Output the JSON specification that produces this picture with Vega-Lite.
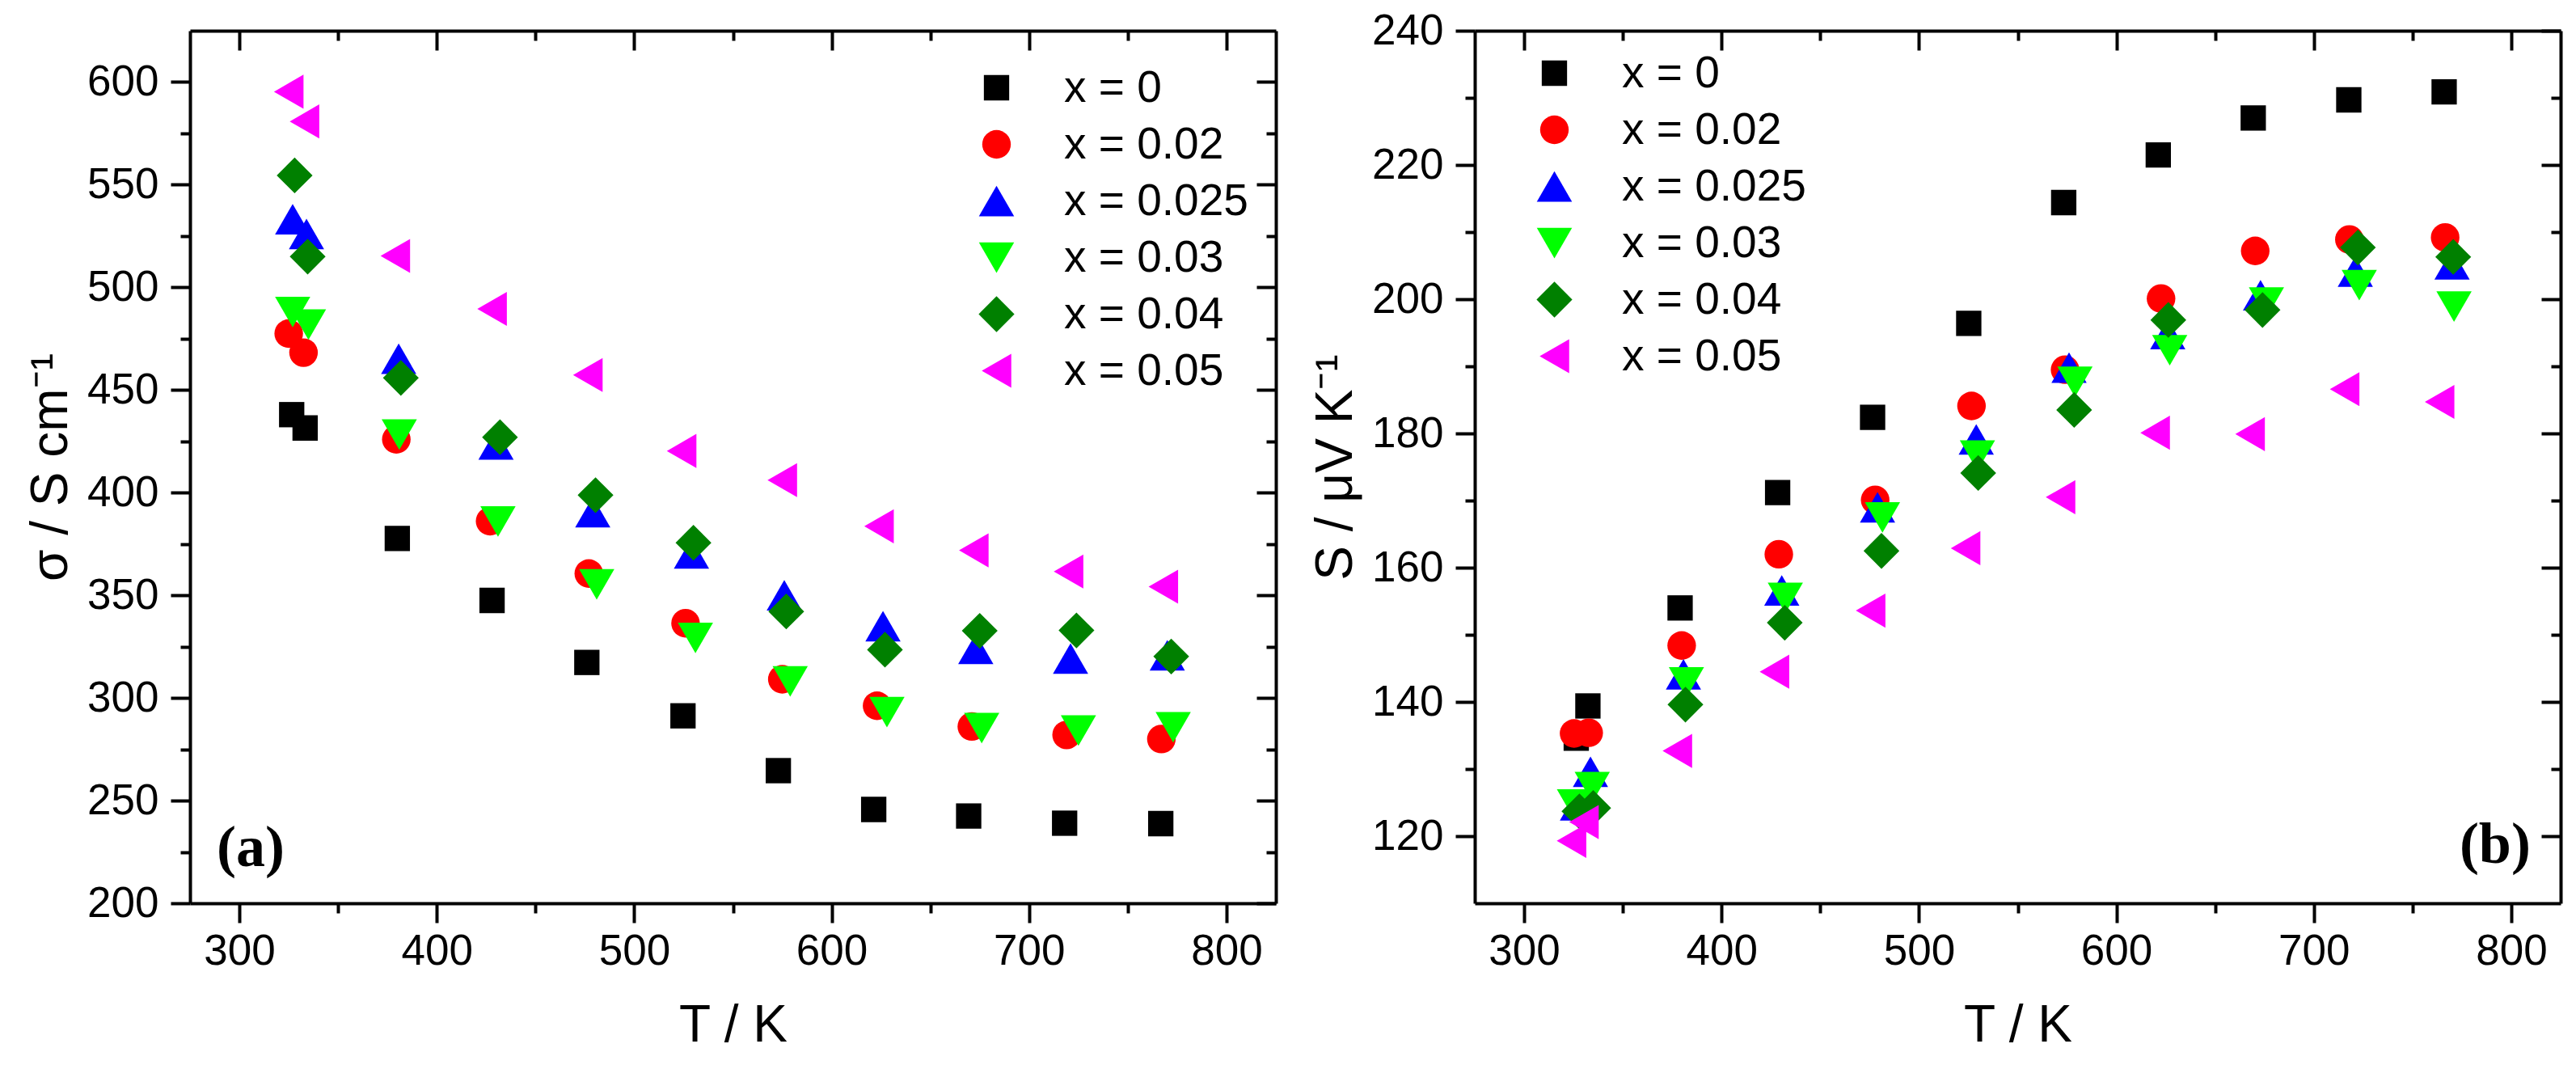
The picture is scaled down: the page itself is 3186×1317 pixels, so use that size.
{
  "$schema": "https://vega.github.io/schema/vega-lite/v6.json",
  "background": "white",
  "padding": {"left": 31, "top": 12, "right": 5, "bottom": 5},
  "config": {
    "view": {"stroke": null},
    "axis": {"labelFont": "Liberation Sans", "titleFont": "Liberation Sans", "labelFontSize": 53, "titleFontSize": 64, "titleFontWeight": "normal", "labelColor": "black", "titleColor": "black", "domainColor": "black", "tickColor": "black", "domainWidth": 4, "tickWidth": 4, "grid": false, "labelFlush": false, "labelOverlap": false},
    "legend": {"labelFont": "Liberation Sans", "labelFontSize": 55, "labelColor": "black", "symbolStrokeWidth": 0, "padding": 0, "labelOffset": 56, "rowPadding": 14, "labelLimit": 1000}
  },
  "datasets": {
    "a": [
      {"s": "x = 0", "T": 326.5, "v": 438}, {"s": "x = 0", "T": 333.3, "v": 431.5}, {"s": "x = 0", "T": 380, "v": 377.7}, {"s": "x = 0", "T": 428, "v": 347.5}, {"s": "x = 0", "T": 476, "v": 317.3}, {"s": "x = 0", "T": 524.7, "v": 291.3}, {"s": "x = 0", "T": 573, "v": 264.6}, {"s": "x = 0", "T": 621.3, "v": 245.7}, {"s": "x = 0", "T": 669.4, "v": 242.5}, {"s": "x = 0", "T": 718, "v": 239}, {"s": "x = 0", "T": 766.7, "v": 238.8},
      {"s": "x = 0.02", "T": 325, "v": 477.5}, {"s": "x = 0.02", "T": 332.5, "v": 468.2}, {"s": "x = 0.02", "T": 379.5, "v": 426}, {"s": "x = 0.02", "T": 427, "v": 386.1}, {"s": "x = 0.02", "T": 477, "v": 360.6}, {"s": "x = 0.02", "T": 526, "v": 336.4}, {"s": "x = 0.02", "T": 575, "v": 309.1}, {"s": "x = 0.02", "T": 623, "v": 296.2}, {"s": "x = 0.02", "T": 671, "v": 286.1}, {"s": "x = 0.02", "T": 719, "v": 282}, {"s": "x = 0.02", "T": 767, "v": 280},
      {"s": "x = 0.025", "T": 327, "v": 533.2}, {"s": "x = 0.025", "T": 334, "v": 526}, {"s": "x = 0.025", "T": 380.7, "v": 465.2}, {"s": "x = 0.025", "T": 430, "v": 423.5}, {"s": "x = 0.025", "T": 479, "v": 390.5}, {"s": "x = 0.025", "T": 529, "v": 370.4}, {"s": "x = 0.025", "T": 576, "v": 350}, {"s": "x = 0.025", "T": 626, "v": 335}, {"s": "x = 0.025", "T": 673, "v": 323.9}, {"s": "x = 0.025", "T": 721, "v": 319.2}, {"s": "x = 0.025", "T": 770, "v": 320.8},
      {"s": "x = 0.03", "T": 327, "v": 488}, {"s": "x = 0.03", "T": 335, "v": 481.9}, {"s": "x = 0.03", "T": 381, "v": 428.3}, {"s": "x = 0.03", "T": 431, "v": 386}, {"s": "x = 0.03", "T": 481, "v": 355.3}, {"s": "x = 0.03", "T": 531, "v": 329.2}, {"s": "x = 0.03", "T": 579, "v": 308.1}, {"s": "x = 0.03", "T": 628, "v": 293.1}, {"s": "x = 0.03", "T": 676, "v": 285.3}, {"s": "x = 0.03", "T": 725, "v": 284.1}, {"s": "x = 0.03", "T": 773, "v": 285.7},
      {"s": "x = 0.04", "T": 328, "v": 554.5}, {"s": "x = 0.04", "T": 334.6, "v": 515}, {"s": "x = 0.04", "T": 381.8, "v": 455.9}, {"s": "x = 0.04", "T": 432, "v": 427}, {"s": "x = 0.04", "T": 480.4, "v": 398.8}, {"s": "x = 0.04", "T": 530, "v": 375.6}, {"s": "x = 0.04", "T": 577, "v": 342.1}, {"s": "x = 0.04", "T": 627, "v": 323.5}, {"s": "x = 0.04", "T": 675, "v": 332.7}, {"s": "x = 0.04", "T": 724, "v": 332.9}, {"s": "x = 0.04", "T": 772, "v": 320.2},
      {"s": "x = 0.05", "T": 325, "v": 595.3}, {"s": "x = 0.05", "T": 333, "v": 580.8}, {"s": "x = 0.05", "T": 379, "v": 515.3}, {"s": "x = 0.05", "T": 428, "v": 489.5}, {"s": "x = 0.05", "T": 476.5, "v": 457.3}, {"s": "x = 0.05", "T": 524, "v": 420.3}, {"s": "x = 0.05", "T": 575, "v": 406.1}, {"s": "x = 0.05", "T": 624, "v": 383.6}, {"s": "x = 0.05", "T": 672, "v": 371.9}, {"s": "x = 0.05", "T": 720, "v": 361.6}, {"s": "x = 0.05", "T": 768, "v": 354.2}
    ],
    "b": [
      {"s": "x = 0", "T": 326.4, "v": 134.6}, {"s": "x = 0", "T": 332.3, "v": 139.4}, {"s": "x = 0", "T": 379, "v": 154}, {"s": "x = 0", "T": 428.4, "v": 171.2}, {"s": "x = 0", "T": 476.5, "v": 182.4}, {"s": "x = 0", "T": 525.2, "v": 196.4}, {"s": "x = 0", "T": 573.3, "v": 214.4}, {"s": "x = 0", "T": 621.2, "v": 221.5}, {"s": "x = 0", "T": 669.3, "v": 227}, {"s": "x = 0", "T": 717.7, "v": 229.7}, {"s": "x = 0", "T": 766, "v": 230.9},
      {"s": "x = 0.02", "T": 325.3, "v": 135.3}, {"s": "x = 0.02", "T": 332.7, "v": 135.4}, {"s": "x = 0.02", "T": 379.8, "v": 148.4}, {"s": "x = 0.02", "T": 429, "v": 162}, {"s": "x = 0.02", "T": 477.8, "v": 170.1}, {"s": "x = 0.02", "T": 526.6, "v": 184.1}, {"s": "x = 0.02", "T": 574, "v": 189.5}, {"s": "x = 0.02", "T": 622.6, "v": 200.1}, {"s": "x = 0.02", "T": 670.3, "v": 207.2}, {"s": "x = 0.02", "T": 718, "v": 208.9}, {"s": "x = 0.02", "T": 766.5, "v": 209.2},
      {"s": "x = 0.025", "T": 327, "v": 124.6}, {"s": "x = 0.025", "T": 333.6, "v": 129.6}, {"s": "x = 0.025", "T": 380.7, "v": 144.1}, {"s": "x = 0.025", "T": 430.5, "v": 156.6}, {"s": "x = 0.025", "T": 479, "v": 169}, {"s": "x = 0.025", "T": 529, "v": 179.1}, {"s": "x = 0.025", "T": 576, "v": 189.8}, {"s": "x = 0.025", "T": 626, "v": 194.8}, {"s": "x = 0.025", "T": 673, "v": 200.6}, {"s": "x = 0.025", "T": 721, "v": 204.1}, {"s": "x = 0.025", "T": 770, "v": 205.2},
      {"s": "x = 0.03", "T": 325.5, "v": 124.7}, {"s": "x = 0.03", "T": 334.5, "v": 127.3}, {"s": "x = 0.03", "T": 382.2, "v": 142.9}, {"s": "x = 0.03", "T": 432.3, "v": 155.5}, {"s": "x = 0.03", "T": 481.5, "v": 167.5}, {"s": "x = 0.03", "T": 529.6, "v": 176.7}, {"s": "x = 0.03", "T": 579, "v": 187.7}, {"s": "x = 0.03", "T": 627, "v": 192.4}, {"s": "x = 0.03", "T": 676, "v": 199.5}, {"s": "x = 0.03", "T": 723, "v": 202.1}, {"s": "x = 0.03", "T": 771, "v": 198.9},
      {"s": "x = 0.04", "T": 328, "v": 123.7}, {"s": "x = 0.04", "T": 335, "v": 124.2}, {"s": "x = 0.04", "T": 381.7, "v": 139.6}, {"s": "x = 0.04", "T": 432, "v": 151.8}, {"s": "x = 0.04", "T": 481, "v": 162.5}, {"s": "x = 0.04", "T": 530, "v": 174.1}, {"s": "x = 0.04", "T": 578.6, "v": 183.5}, {"s": "x = 0.04", "T": 626.3, "v": 196.9}, {"s": "x = 0.04", "T": 674, "v": 198.4}, {"s": "x = 0.04", "T": 722.3, "v": 207.7}, {"s": "x = 0.04", "T": 770.6, "v": 206.3},
      {"s": "x = 0.05", "T": 324, "v": 119.3}, {"s": "x = 0.05", "T": 330.3, "v": 122.1}, {"s": "x = 0.05", "T": 377.6, "v": 132.7}, {"s": "x = 0.05", "T": 426.8, "v": 144.5}, {"s": "x = 0.05", "T": 475.5, "v": 153.6}, {"s": "x = 0.05", "T": 523.6, "v": 162.9}, {"s": "x = 0.05", "T": 571.7, "v": 170.5}, {"s": "x = 0.05", "T": 619.6, "v": 180.1}, {"s": "x = 0.05", "T": 667.7, "v": 179.9}, {"s": "x = 0.05", "T": 715.6, "v": 186.6}, {"s": "x = 0.05", "T": 763.7, "v": 184.7}
    ]
  },
  "resolve": {"legend": {"color": "independent", "shape": "independent", "size": "independent"}, "scale": {"color": "independent", "shape": "independent", "size": "independent"}},
  "spacing": 40,
  "hconcat": [
    {
      "width": 1343, "height": 1079,
      "resolve": {"axis": {"x": "independent", "y": "independent"}},
      "layer": [
        {
          "data": {"name": "a"},
          "mark": {"type": "point", "filled": true, "opacity": 1, "strokeWidth": 0},
          "encoding": {
            "x": {"field": "T", "type": "quantitative", "scale": {"domain": [275, 825], "nice": false, "zero": false}, "axis": {"orient": "bottom", "values": [300, 400, 500, 600, 700, 800], "tickSize": 24, "labelPadding": 9, "title": "T / K", "titlePadding": 33}},
            "y": {"field": "v", "type": "quantitative", "scale": {"domain": [200, 625], "nice": false, "zero": false}, "axis": {"orient": "left", "values": [200, 250, 300, 350, 400, 450, 500, 550, 600], "tickSize": 24, "labelPadding": 15, "title": "σ / S cm⁻¹", "titlePadding": 12}},
            "shape": {"field": "s", "type": "nominal", "scale": {"domain": ["x = 0", "x = 0.02", "x = 0.025", "x = 0.03", "x = 0.04", "x = 0.05"], "range": ["square", "circle", "triangle-up", "triangle-down", "diamond", "triangle-left"]}, "legend": {"orient": "none", "legendX": 970, "legendY": 43, "title": null}},
            "color": {"field": "s", "type": "nominal", "scale": {"domain": ["x = 0", "x = 0.02", "x = 0.025", "x = 0.03", "x = 0.04", "x = 0.05"], "range": ["#000000", "#ff0000", "#0000ff", "#00ff00", "#008000", "#ff00ff"]}, "legend": {"orient": "none", "legendX": 970, "legendY": 43, "title": null}},
            "size": {"field": "s", "type": "nominal", "scale": {"type": "ordinal", "domain": ["x = 0", "x = 0.02", "x = 0.025", "x = 0.03", "x = 0.04", "x = 0.05"], "range": [980, 1250, 1900, 1900, 1960, 1780]}, "legend": {"orient": "none", "legendX": 970, "legendY": 43, "title": null}}
          }
        },
        {
          "data": {"values": []},
          "mark": "point",
          "encoding": {
            "x": {"field": "T", "type": "quantitative", "scale": {"domain": [275, 825], "nice": false, "zero": false}, "axis": {"orient": "bottom", "values": [350, 450, 550, 650, 750], "tickSize": 12, "labels": false, "domain": false, "title": null}},
            "y": {"field": "v", "type": "quantitative", "scale": {"domain": [200, 625], "nice": false, "zero": false}, "axis": {"orient": "left", "values": [225, 275, 325, 375, 425, 475, 525, 575], "tickSize": 12, "labels": false, "domain": false, "title": null}}
          }
        },
        {
          "data": {"values": []},
          "mark": "point",
          "encoding": {
            "x": {"field": "T", "type": "quantitative", "scale": {"domain": [275, 825], "nice": false, "zero": false}, "axis": {"orient": "top", "values": [300, 400, 500, 600, 700, 800], "tickSize": -24, "labels": false, "domain": true, "title": null}},
            "y": {"field": "v", "type": "quantitative", "scale": {"domain": [200, 625], "nice": false, "zero": false}, "axis": {"orient": "right", "values": [200, 250, 300, 350, 400, 450, 500, 550, 600], "tickSize": -24, "labels": false, "domain": true, "title": null}}
          }
        },
        {
          "data": {"values": []},
          "mark": "point",
          "encoding": {
            "x": {"field": "T", "type": "quantitative", "scale": {"domain": [275, 825], "nice": false, "zero": false}, "axis": {"orient": "top", "values": [350, 450, 550, 650, 750], "tickSize": -12, "labels": false, "domain": false, "title": null}},
            "y": {"field": "v", "type": "quantitative", "scale": {"domain": [200, 625], "nice": false, "zero": false}, "axis": {"orient": "right", "values": [225, 275, 325, 375, 425, 475, 525, 575], "tickSize": -12, "labels": false, "domain": false, "title": null}}
          }
        },
        {
          "data": {"values": [{}]},
          "mark": {"type": "text", "font": "Liberation Serif", "fontWeight": "bold", "fontSize": 72, "align": "left", "baseline": "middle", "color": "black"},
          "encoding": {
            "x": {"datum": 288.5, "type": "quantitative", "axis": null},
            "y": {"datum": 226.8, "type": "quantitative", "axis": null},
            "text": {"value": "(a)"}
          }
        }
      ]
    },
    {
      "width": 1343, "height": 1079,
      "resolve": {"axis": {"x": "independent", "y": "independent"}},
      "layer": [
        {
          "data": {"name": "b"},
          "mark": {"type": "point", "filled": true, "opacity": 1, "strokeWidth": 0},
          "encoding": {
            "x": {"field": "T", "type": "quantitative", "scale": {"domain": [275, 825], "nice": false, "zero": false}, "axis": {"orient": "bottom", "values": [300, 400, 500, 600, 700, 800], "tickSize": 24, "labelPadding": 9, "title": "T / K", "titlePadding": 33}},
            "y": {"field": "v", "type": "quantitative", "scale": {"domain": [110, 240], "nice": false, "zero": false}, "axis": {"orient": "left", "values": [120, 140, 160, 180, 200, 220, 240], "tickSize": 24, "labelPadding": 15, "title": "S / μV K⁻¹", "titlePadding": 12}},
            "shape": {"field": "s", "type": "nominal", "scale": {"domain": ["x = 0", "x = 0.02", "x = 0.025", "x = 0.03", "x = 0.04", "x = 0.05"], "range": ["square", "circle", "triangle-up", "triangle-down", "diamond", "triangle-left"]}, "legend": {"orient": "none", "legendX": 71, "legendY": 25, "title": null}},
            "color": {"field": "s", "type": "nominal", "scale": {"domain": ["x = 0", "x = 0.02", "x = 0.025", "x = 0.03", "x = 0.04", "x = 0.05"], "range": ["#000000", "#ff0000", "#0000ff", "#00ff00", "#008000", "#ff00ff"]}, "legend": {"orient": "none", "legendX": 71, "legendY": 25, "title": null}},
            "size": {"field": "s", "type": "nominal", "scale": {"type": "ordinal", "domain": ["x = 0", "x = 0.02", "x = 0.025", "x = 0.03", "x = 0.04", "x = 0.05"], "range": [980, 1250, 1900, 1900, 1960, 1780]}, "legend": {"orient": "none", "legendX": 71, "legendY": 25, "title": null}}
          }
        },
        {
          "data": {"values": []},
          "mark": "point",
          "encoding": {
            "x": {"field": "T", "type": "quantitative", "scale": {"domain": [275, 825], "nice": false, "zero": false}, "axis": {"orient": "bottom", "values": [350, 450, 550, 650, 750], "tickSize": 12, "labels": false, "domain": false, "title": null}},
            "y": {"field": "v", "type": "quantitative", "scale": {"domain": [110, 240], "nice": false, "zero": false}, "axis": {"orient": "left", "values": [130, 150, 170, 190, 210, 230], "tickSize": 12, "labels": false, "domain": false, "title": null}}
          }
        },
        {
          "data": {"values": []},
          "mark": "point",
          "encoding": {
            "x": {"field": "T", "type": "quantitative", "scale": {"domain": [275, 825], "nice": false, "zero": false}, "axis": {"orient": "top", "values": [300, 400, 500, 600, 700, 800], "tickSize": -24, "labels": false, "domain": true, "title": null}},
            "y": {"field": "v", "type": "quantitative", "scale": {"domain": [110, 240], "nice": false, "zero": false}, "axis": {"orient": "right", "values": [120, 140, 160, 180, 200, 220, 240], "tickSize": -24, "labels": false, "domain": true, "title": null}}
          }
        },
        {
          "data": {"values": []},
          "mark": "point",
          "encoding": {
            "x": {"field": "T", "type": "quantitative", "scale": {"domain": [275, 825], "nice": false, "zero": false}, "axis": {"orient": "top", "values": [350, 450, 550, 650, 750], "tickSize": -12, "labels": false, "domain": false, "title": null}},
            "y": {"field": "v", "type": "quantitative", "scale": {"domain": [110, 240], "nice": false, "zero": false}, "axis": {"orient": "right", "values": [130, 150, 170, 190, 210, 230], "tickSize": -12, "labels": false, "domain": false, "title": null}}
          }
        },
        {
          "data": {"values": [{}]},
          "mark": {"type": "text", "font": "Liberation Serif", "fontWeight": "bold", "fontSize": 72, "align": "right", "baseline": "middle", "color": "black"},
          "encoding": {
            "x": {"datum": 809.8, "type": "quantitative", "axis": null},
            "y": {"datum": 118.7, "type": "quantitative", "axis": null},
            "text": {"value": "(b)"}
          }
        }
      ]
    }
  ]
}
